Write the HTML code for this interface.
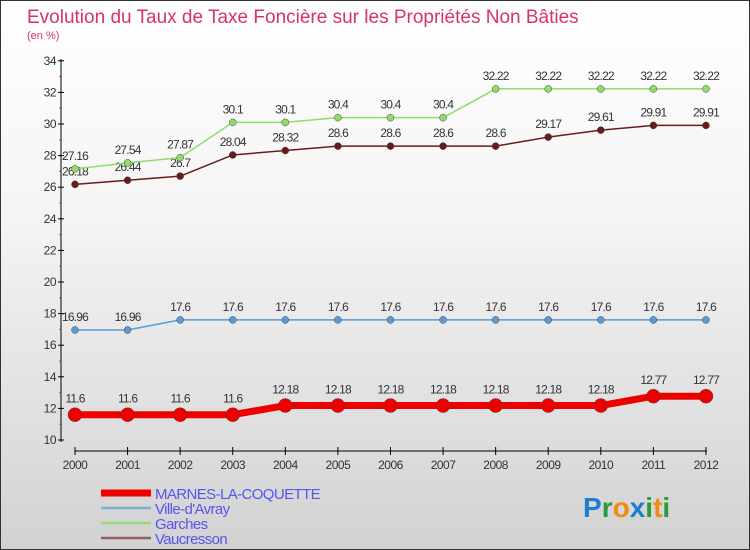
<!DOCTYPE html>
<html><head><meta charset="utf-8"><style>
body{margin:0;width:750px;height:550px;overflow:hidden;font-family:"Liberation Sans",sans-serif}
#wrap{position:relative;width:748px;height:548px;border:1px solid #333;background:linear-gradient(#fff 0%,#f4f4f4 40%,#d2d2d2 100%)}
</style></head><body>
<div id="wrap">
<svg id="chart" width="748" height="548" style="position:absolute;left:0;top:0;font-family:'Liberation Sans',sans-serif"></svg>
</div>
<script>
const years=[2000,2001,2002,2003,2004,2005,2006,2007,2008,2009,2010,2011,2012];
const marnes=[11.6,11.6,11.6,11.6,12.18,12.18,12.18,12.18,12.18,12.18,12.18,12.77,12.77];
const ville=[16.96,16.96,17.6,17.6,17.6,17.6,17.6,17.6,17.6,17.6,17.6,17.6,17.6];
const garches=[27.16,27.54,27.87,30.1,30.1,30.4,30.4,30.4,32.22,32.22,32.22,32.22,32.22];
const vauc=[26.18,26.44,26.7,28.04,28.32,28.6,28.6,28.6,28.6,29.17,29.61,29.91,29.91];
const yTicks=[10,12,14,16,18,20,22,24,26,28,30,32,34];
const seriesNames=["MARNES-LA-COQUETTE","Ville-d'Avray","Garches","Vaucresson"];
const NS="http://www.w3.org/2000/svg";
const svg=document.getElementById('chart');
const X=i=>74+i*52.58;
const Y=v=>439-(v-10)*15.8;
function mk(t,a,p){const e=document.createElementNS(NS,t);for(const k in a)e.setAttribute(k,a[k]);(p||svg).appendChild(e);return e;}
let t=mk('text',{x:26,y:22,'font-size':19,fill:'#d6336c'});t.textContent='Evolution du Taux de Taxe Foncière sur les Propriétés Non Bâties';

t=mk('text',{x:26,y:38,'font-size':11,fill:'#d6336c'});t.textContent='(en %)';

// axes
let ax=mk('line',{x1:60,y1:58,x2:60,y2:441,stroke:'#000','stroke-width':1});

ax=mk('line',{x1:74,y1:450,x2:706,y2:450,stroke:'#000','stroke-width':1});

yTicks.forEach(v=>{mk('line',{x1:57,y1:Y(v),x2:63,y2:Y(v),stroke:'#000'});
 if(v<34)mk('line',{x1:58,y1:Y(v+1),x2:61,y2:Y(v+1),stroke:'#e33'});
 const l=mk('text',{x:55,y:Y(v)+4,'font-size':12,fill:'#333','text-anchor':'end','letter-spacing':'-0.5'});l.textContent=v;
 });
years.forEach((yr,i)=>{mk('line',{x1:X(i),y1:446,x2:X(i),y2:454,stroke:'#000'});
 const l=mk('text',{x:X(i),y:468,'font-size':12,fill:'#333','text-anchor':'middle','letter-spacing':'-0.5'});l.textContent=yr;
 });
function series(data,color,w,r,name,labDy){
 const g=mk('g',{});
 mk('polyline',{points:data.map((v,i)=>X(i)+','+Y(v)).join(' '),fill:'none',stroke:color,'stroke-width':w,'stroke-linejoin':'round'},g);
 data.forEach((v,i)=>{const c=mk('circle',{cx:X(i),cy:Y(v),r:r,fill:color,stroke:'#444','stroke-width':0.5},g);
  
  const l=mk('text',{x:X(i),y:Y(v)+labDy,'font-size':12,fill:'#333','text-anchor':'middle','letter-spacing':'-0.8'},g);l.textContent=v;
  });
}
series(ville,'#5b9bd5',1.5,3.5,'ville-davray',-9);
series(vauc,'#6b1a1a',1.5,3.5,'vaucresson',-9);
series(garches,'#8fdc6a',1.5,3.5,'garches',-9);
series(marnes,'#ee0000',7,7,'marnes-la-coquette',-12);
// legend
const lc=['#ee0000','#7aaed6','#9ad77a','#956060'],lw=[7,2.5,2.5,2.5];
seriesNames.forEach((n,i)=>{const y=492+i*15;
 const g=mk('g',{});
 mk('line',{x1:100,y1:y,x2:150,y2:y,stroke:lc[i],'stroke-width':lw[i]},g);
 const l=mk('text',{x:154,y:y+6,'font-size':15,fill:'#5555ee','letter-spacing':'-0.6'},g);l.textContent=n;});
// logo
const logo=mk('text',{x:582,y:516,'font-size':28,'font-weight':'bold'});

[['P','#1a7fd0'],['r','#2a9a3a'],['o','#f08a10'],['x','#1a7fd0'],['i','#2a9a3a'],['t','#f08a10'],['i','#2a9a3a']].forEach(([c,f])=>{const s=mk('tspan',{fill:f},logo);s.textContent=c;});
</script>
</body></html>
